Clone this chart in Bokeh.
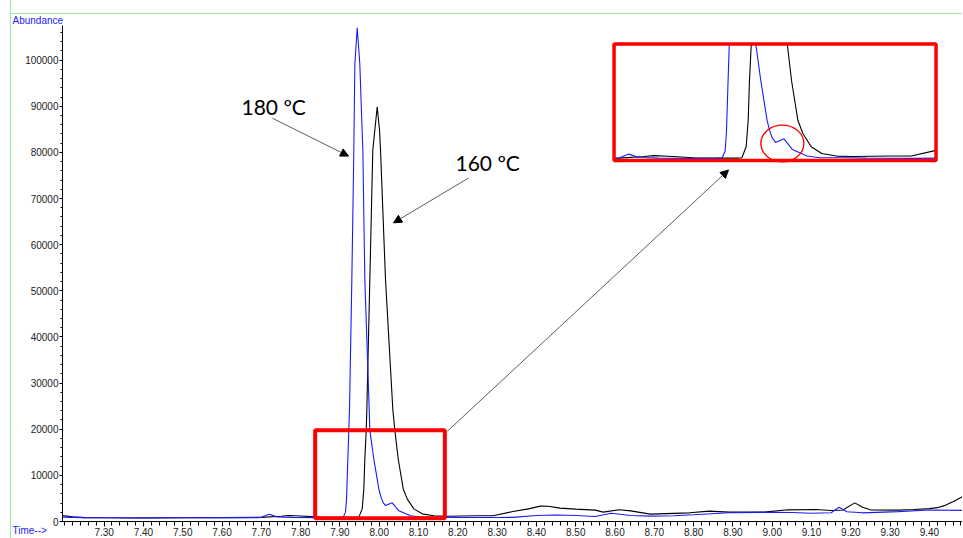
import numpy as np
from bokeh.plotting import figure
from bokeh.models import (Range1d, FixedTicker, NumeralTickFormatter, Label,
                          Arrow, NormalHead)
from bokeh.embed import file_html
from bokeh.resources import INLINE

# ---------------- data ----------------
time_180 = [7.194, 7.25, 7.30, 7.40, 7.50, 7.60, 7.69, 7.70, 7.72, 7.74, 7.78, 7.85,
            7.90, 7.9084, 7.9142, 7.9168, 7.9226, 7.9244, 7.9303, 7.9354, 7.938, 7.944,
            7.9506, 7.9583, 7.9634, 7.9745, 7.9761, 7.9863, 7.999, 8.0033, 8.0092, 8.016,
            8.0331, 8.0499, 8.0797, 8.105, 8.15, 8.20, 8.30, 8.34, 8.40, 8.45, 8.50,
            8.55, 8.59, 8.64, 8.69, 8.75, 8.80, 8.89, 9.00, 9.05, 9.10, 9.15, 9.17,
            9.19, 9.23, 9.32, 9.40, 9.487]
abund_180 = [950, 850, 800, 780, 800, 850, 850, 900, 1550, 1000, 900, 850,
             900, 950, 2030, 4900, 19800, 24300, 52400, 80500, 99200, 107000,
             99200, 80500, 52400, 24300, 19800, 13500, 7060, 5620, 4190, 3460,
             4040, 2310, 1230, 950, 950, 900, 860, 900, 1300, 1400, 1300,
             1100, 1800, 1300, 1170, 1250, 1450, 1900, 2000, 1950, 1800, 1900, 3100,
             2100, 1880, 2150, 2500, 2400]

time_160 = [7.194, 7.22, 7.25, 7.30, 7.40, 7.50, 7.60, 7.69, 7.70, 7.75, 7.77, 7.80,
            7.85, 7.90, 7.94, 7.9481, 7.9567, 7.9608, 7.9634, 7.9670, 7.9685, 7.9761,
            7.9837, 7.9888, 7.9949, 8.0008, 8.0033, 8.016, 8.0346, 8.0397, 8.0483,
            8.0611, 8.0712, 8.088, 8.1094, 8.1389, 8.17, 8.25, 8.29, 8.34, 8.38, 8.41,
            8.43, 8.46, 8.50, 8.55, 8.57, 8.61, 8.64, 8.69, 8.79, 8.84, 8.89, 8.98,
            9.04, 9.11, 9.15, 9.18, 9.21, 9.23, 9.25, 9.32, 9.36, 9.40, 9.42, 9.44,
            9.46, 9.487]
abund_160 = [1300, 1000, 850, 800, 750, 800, 850, 900, 900, 1150, 1300, 1200,
             950, 900, 900, 950, 2740, 7060, 13540, 19800, 24300, 52400,
             80500, 84800, 89900, 84800, 80500, 52400, 24300, 19800, 13540,
             7060, 4900, 2740, 1660, 1230, 1150, 1250, 1250, 2160, 2740, 3330,
             3300, 2900, 2680, 2460, 2030, 2530, 2310, 1600, 1880, 2250, 2030, 2030,
             2530, 2600, 2380, 2500, 4040, 3110, 2530, 2460, 2600, 2800, 3000, 3500,
             4300, 5500]

series_labels = ["180 \u00baC", "160 \u00baC"]
x_major_ticks = [7.30, 7.40, 7.50, 7.60, 7.70, 7.80, 7.90, 8.00, 8.10, 8.20, 8.30,
                 8.40, 8.50, 8.60, 8.70, 8.80, 8.90, 9.00, 9.10, 9.20, 9.30, 9.40]
y_major_ticks = [0, 10000, 20000, 30000, 40000, 50000, 60000, 70000, 80000,
                 90000, 100000]
y_title = "Abundance"
x_title = "Time-->"

# highlighted region and the magnified window
zoom_left, zoom_right, zoom_bottom, zoom_top = 7.837, 8.167, 700, 19800
inset_left, inset_right, inset_bottom, inset_top = 7.69, 8.34, 500, 19500

# ---------------- layout geometry ----------------
X0, X1 = 7.1941, 9.4867
Y0, Y1 = 0, 107500
# where the inset window sits, in main-axis coordinates
inset_px_x = (8.5975, 9.4168)
inset_px_y = (78229, 103499)


def lin(a0, a1, b0, b1, v):
    return b0 + (v - a0) * (b1 - b0) / (a1 - a0)


p = figure(width=952, height=538, output_backend="svg", toolbar_location=None,
           title=None, x_range=Range1d(X0, X1), y_range=Range1d(Y0, Y1),
           min_border_left=51, min_border_right=0, min_border_top=25,
           min_border_bottom=0, margin=(0, 0, 0, 10))
# thin light-green frame lines of the original printout (left and top)
p.styles = {"border-left": "1px solid #99ee99",
            "background-image": "linear-gradient(#99ee99, #99ee99)",
            "background-size": "100% 1px",
            "background-position": "0 13px",
            "background-repeat": "no-repeat"}
p.outline_line_color = None
p.xgrid.visible = False
p.ygrid.visible = False
p.background_fill_color = "white"
p.border_fill_color = None
p.border_fill_alpha = 0

p.extra_x_ranges = {"inset": Range1d(lin(*inset_px_x, inset_left, inset_right, X0),
                                     lin(*inset_px_x, inset_left, inset_right, X1))}
p.extra_y_ranges = {"inset": Range1d(lin(*inset_px_y, inset_bottom, inset_top, Y0),
                                     lin(*inset_px_y, inset_bottom, inset_top, Y1))}

# axes
x_minor = [round(7.20 + 0.02 * i, 2) for i in range(0, 116)]
p.xaxis.ticker = FixedTicker(ticks=x_major_ticks, minor_ticks=x_minor)
p.xaxis.formatter = NumeralTickFormatter(format="0.00")
y_minor = list(range(0, 108000, 2000))
p.yaxis.ticker = FixedTicker(ticks=y_major_ticks, minor_ticks=y_minor)
p.yaxis.formatter = NumeralTickFormatter(format="0")
for ax in (p.xaxis, p.yaxis):
    ax.axis_line_color = "black"
    ax.major_tick_line_color = "black"
    ax.minor_tick_line_color = "black"
    ax.major_tick_in = 0
    ax.minor_tick_in = 0
    ax.major_label_text_font = "Liberation Sans"
    ax.major_label_text_font_size = "10px"
    ax.major_label_text_color = "#222222"
p.xaxis.major_tick_out = 5
p.xaxis.minor_tick_out = 4
p.xaxis.major_label_standoff = 1
p.yaxis.major_tick_out = 3
p.yaxis.minor_tick_out = 2
p.yaxis.major_label_standoff = 1

# main traces
p.line(time_160, abund_160, line_color="black", line_width=1.1)
p.line(time_180, abund_180, line_color="#1a1aff", line_width=1.1)

# inset (magnified) traces
for t, v, c in ((time_160, abund_160, "black"), (time_180, abund_180, "#1a1aff")):
    t = np.asarray(t, dtype=float)
    v = np.asarray(v, dtype=float)
    m = (t >= inset_left - 1e-9) & (t <= inset_right + 1e-9)
    p.line(t[m], np.minimum(v[m], inset_top), line_color=c, line_width=1.1,
           x_range_name="inset", y_range_name="inset")

# red boxes
p.quad(left=[zoom_left], right=[zoom_right], bottom=[zoom_bottom], top=[zoom_top],
       fill_color=None, line_color="#ff0000", line_width=4)
p.quad(left=[inset_left], right=[inset_right], bottom=[inset_bottom], top=[inset_top],
       fill_color=None, line_color="#ff0000", line_width=3.5,
       x_range_name="inset", y_range_name="inset")
p.ellipse(x=[8.0298], y=[3293], width=[0.0869], height=[6000], fill_color=None,
          line_color="#ff0000", line_width=1.3,
          x_range_name="inset", y_range_name="inset")

# arrows
def arrow(xs, ys, xe, ye):
    p.add_layout(Arrow(end=NormalHead(size=8, fill_color="black", line_color="black",
                                      line_width=1),
                       x_start=xs, y_start=ys, x_end=xe, y_end=ye,
                       line_color="#333333", line_width=0.8))

arrow(7.7283, 87400, 7.9219, 79200)
arrow(8.2274, 74450, 8.0365, 64730)
arrow(8.1738, 19590, 8.8888, 76180)

# texts inside the plot
p.add_layout(Label(x=7.6496, y=90050, text=series_labels[0], text_font="Lato",
                   text_font_size="21px", text_color="black",
                   text_baseline="alphabetic"))
p.add_layout(Label(x=8.1941, y=77850, text=series_labels[1], text_font="Lato",
                   text_font_size="21px", text_color="black",
                   text_baseline="alphabetic"))

# axis captions outside the frame (placed in a side panel so they are not clipped)
p.add_layout(Label(x=0, y=20, x_units="canvas", y_units="canvas", text=y_title,
                   text_font="Liberation Sans", text_font_size="10px",
                   text_color="#2222ff", text_baseline="alphabetic"), "above")
p.add_layout(Label(x=0, y=530, x_units="canvas", y_units="canvas", text=x_title,
                   text_font="Liberation Sans", text_font_size="10px",
                   text_color="#2222ff", text_baseline="alphabetic"), "above")

open("out.html", "w").write(file_html(p, INLINE))
